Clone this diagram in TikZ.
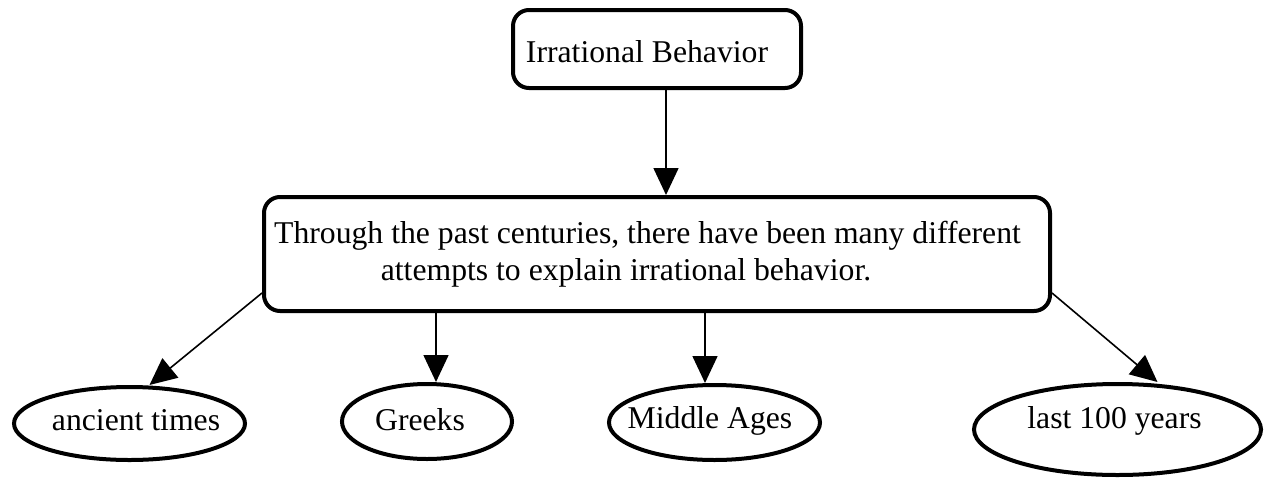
\documentclass[tikz,border=0pt]{standalone}
\usepackage{fontspec}
\setmainfont{Liberation Serif}
\usetikzlibrary{arrows.meta,shapes.geometric}
\newcommand\offtext[2]{\makebox[0pt]{\kern#1\relax#2\kern-#1\relax}}
\tikzset{
  txt/.style={font=\fontsize{31.7}{37}\selectfont, inner sep=0pt},
  boxnode/.style={txt, draw, line width=4pt, rounded corners=16pt, rectangle},
  ovalnode/.style={txt, draw, line width=4pt, ellipse},
  link/.style={line width=1.6pt, -{Triangle[length=27pt,width=25pt]}}
}
\begin{document}
\begin{tikzpicture}[x=1pt,y=-1pt]
\useasboundingbox (0,0) rectangle (1265,479);
\node[boxnode, minimum width=288pt, minimum height=78pt, text height=26pt, text depth=0pt]
  (top) at (657,49) {\offtext{-10pt}{Irrational Behavior}};
\node[boxnode, minimum width=786pt, minimum height=114pt, align=center]
  (mid) at (657,254) {\offtext{-9.5pt}{Through the past centuries, there have been many different}\\
  \offtext{-31pt}{attempts to explain irrational behavior.}};
\node[ovalnode, minimum width=231pt, minimum height=73pt, text height=13pt, text depth=0pt]
  (anc) at (129.5,423.5) {\offtext{6.5pt}{ancient times}};
\node[ovalnode, minimum width=170pt, minimum height=75pt, text height=17pt, text depth=0pt]
  (gre) at (427,421.5) {\offtext{-7pt}{Greeks}};
\node[ovalnode, minimum width=211pt, minimum height=75pt, text height=11pt, text depth=0pt]
  (mida) at (714.5,422.5) {\offtext{-4.5pt}{Middle Ages}};
\node[ovalnode, minimum width=287pt, minimum height=91pt, text height=0pt, text depth=3pt]
  (last) at (1117.5,429.5) {\offtext{-3pt}{last 100 years}};
\draw[link] ([xshift=9pt]top.south) -- ([xshift=9pt]mid.north);
\draw[link] ([yshift=20pt]mid.south west) -- ([xshift=20pt]anc.north);
\draw[link] ([xshift=-221pt]mid.south) -- ([xshift=9pt]gre.north);
\draw[link] ([xshift=48pt]mid.south) -- ([xshift=-9.5pt]mida.north);
\draw[link] ([yshift=20pt]mid.south east) -- ([xshift=40pt]last.north);
\end{tikzpicture}
\end{document}
